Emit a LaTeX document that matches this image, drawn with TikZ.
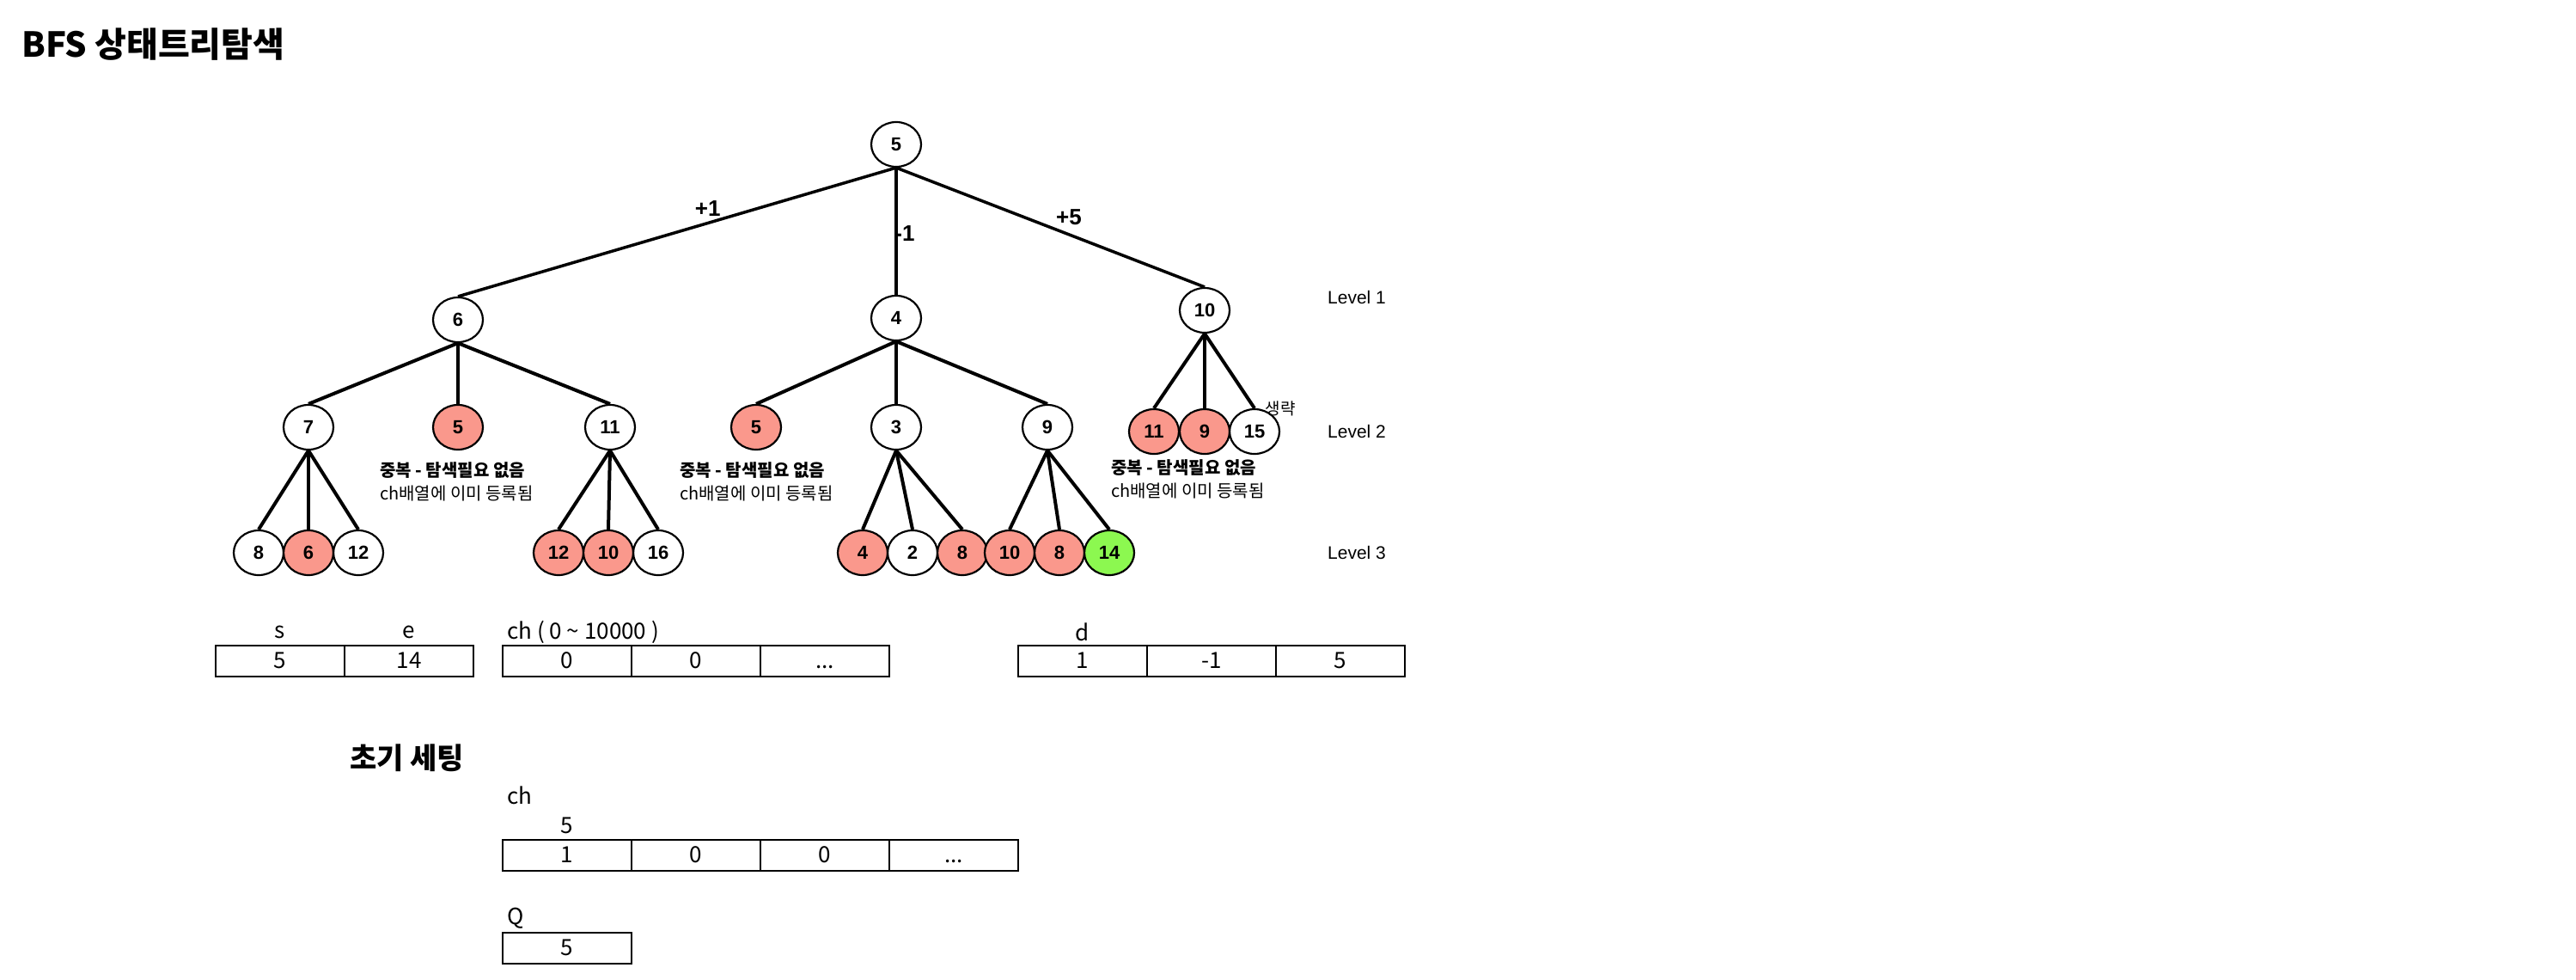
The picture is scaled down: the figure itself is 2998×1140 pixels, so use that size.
\documentclass[tikz,border=0pt]{standalone}
\usepackage{fontspec}
\setmainfont{Liberation Sans}
\newfontfamily\kr{Noto Sans CJK KR}
\usepackage{tikz}
\usetikzlibrary{positioning,shapes.geometric}

\definecolor{dup}{HTML}{FA988C}
\definecolor{goal}{HTML}{8CF850}

\begin{document}
\begin{tikzpicture}[x=1pt,y=-1pt,on grid,
    st/.style={ellipse,draw,line width=2.2pt,minimum width=58pt,minimum height=52pt,inner sep=0pt,font=\fontsize{22}{26}\selectfont\bfseries},
    seen/.style={st,fill=dup},
    found/.style={st,fill=goal},
    br/.style={line width=4pt},
    lbl/.style={font=\fontsize{26}{30}\selectfont\bfseries,inner sep=6pt},
    memo/.style={anchor=north west,inner sep=0pt,align=left,font=\kr\fontsize{20}{27}\selectfont},
    lvl/.style={anchor=west,inner sep=0pt,font=\fontsize{21}{25}\selectfont},
    cell/.style={draw,line width=2pt,minimum width=150pt,minimum height=36pt,inner sep=0pt,text height=18pt,text depth=2pt,font=\kr\fontsize{26}{30}\selectfont},
    tag/.style={inner sep=0pt,font=\kr\fontsize{26}{30}\selectfont}]
    \useasboundingbox (0,0) rectangle (2998,1140);

    \node[anchor=west,inner sep=0pt,font=\kr\fontsize{40}{46}\selectfont\bfseries] (title) at (25,52) {BFS 상태트리탐색};

    % tree
    \node[st] (r) at (1043,168) {5};
    \node[st, below left=204pt and 510pt of r] (a) {6};
    \node[st, below=202pt of r] (b) {4};
    \node[st, below right=193pt and 359pt of r] (c) {10};

    \node[st, below left=125pt and 174pt of a] (a1) {7};
    \node[seen, below=125pt of a] (a2) {5};
    \node[st, below right=125pt and 177pt of a] (a3) {11};
    \node[seen, below left=127pt and 163pt of b] (b1) {5};
    \node[st, below=127pt of b] (b2) {3};
    \node[st, below right=127pt and 176pt of b] (b3) {9};
    \node[seen, below left=141pt and 59pt of c] (c1) {11};
    \node[seen, right=59pt of c1] (c2) {9};
    \node[st, right=58pt of c2] (c3) {15};

    \node[st, below left=146pt and 58pt of a1] (a11) {8};
    \node[seen, right=58pt of a11] (a12) {6};
    \node[st, right=58pt of a12] (a13) {12};
    \node[seen, below left=146pt and 60pt of a3] (a31) {12};
    \node[seen, right=58pt of a31] (a32) {10};
    \node[st, right=58pt of a32] (a33) {16};
    \node[seen, below left=146pt and 39pt of b2] (b21) {4};
    \node[st, right=58pt of b21] (b22) {2};
    \node[seen, right=58pt of b22] (b23) {8};
    \node[seen, below left=146pt and 44pt of b3] (b31) {10};
    \node[seen, right=58pt of b31] (b32) {8};
    \node[found, right=58pt of b32] (b33) {14};

    \draw[line width=3.5pt] (r.south) edge node[lbl,above,pos=0.43]{+1} (a.north)
          (r.south) edge node[lbl,pos=0.52,xshift=10pt,inner sep=0pt]{-1} (b.north)
          (r.south) edge node[lbl,above,pos=0.56,inner sep=9pt]{+5} (c.north);
    \draw[br] (a.south) edge (a1.north) (a.south) edge (a2.north) (a.south) edge (a3.north)
          (b.south) edge (b1.north) (b.south) edge (b2.north) (b.south) edge (b3.north)
          (c.south) edge (c1.north) (c.south) edge (c2.north) (c.south) edge (c3.north)
          (a1.south) edge (a11.north) (a1.south) edge (a12.north) (a1.south) edge (a13.north)
          (a3.south) edge (a31.north) (a3.south) edge (a32.north) (a3.south) edge (a33.north)
          (b2.south) edge (b21.north) (b2.south) edge (b22.north) (b2.south) edge (b23.north)
          (b3.south) edge (b31.north) (b3.south) edge (b32.north) (b3.south) edge (b33.north);

    \node[inner sep=0pt,font=\kr\fontsize{19}{22}\selectfont] (skip) at (1490,475) {생략};

    \node[memo] (na) at (442,537) {\bfseries 중복 - 탐색필요 없음\\ch배열에 이미 등록됨};
    \node[memo] (nb) at (791,537) {\bfseries 중복 - 탐색필요 없음\\ch배열에 이미 등록됨};
    \node[memo] (nc) at (1293,534) {\bfseries 중복 - 탐색필요 없음\\ch배열에 이미 등록됨};

    \node[lvl] (l1) at (1545,346) {Level 1};
    \node[lvl] (l2) at (1545,502) {Level 2};
    \node[lvl] (l3) at (1545,643) {Level 3};

    % arrays
    \node[cell] (s) at (326,769) {5};
    \node[cell, right=150pt of s] (e) {14};
    \node[tag, above=34pt of s] (sn) {s};
    \node[tag, above=34pt of e] (en) {e};

    \node[cell] (ch1) at (660,769) {0};
    \node[cell, right=150pt of ch1] (ch2) {0};
    \node[cell, right=150pt of ch2] (ch3) {...};
    \node[tag, anchor=west] (chn) at (590,735) {ch ( 0 \textasciitilde{} 10000 )};

    \node[cell] (d1) at (1260,769) {1};
    \node[cell, right=150pt of d1] (d2) {-1};
    \node[cell, right=150pt of d2] (d3) {5};
    \node[tag, above=34pt of d1] (dn) {d};

    % initial setting
    \node[anchor=west,inner sep=0pt,font=\kr\fontsize{34}{40}\selectfont\bfseries] (init) at (407,882) {초기 세팅};
    \node[tag, anchor=west] (cn) at (590,925) {ch};
    \node[cell] (c1x) at (660,995) {1};
    \node[cell, right=150pt of c1x] (c2x) {0};
    \node[cell, right=150pt of c2x] (c3x) {0};
    \node[cell, right=150pt of c3x] (c4x) {...};
    \node[tag, above=35pt of c1x] (idx) {5};

    \node[tag, anchor=west] (qn) at (590,1068) {Q};
    \node[cell] (q1) at (660,1103) {5};
\end{tikzpicture}
\end{document}
